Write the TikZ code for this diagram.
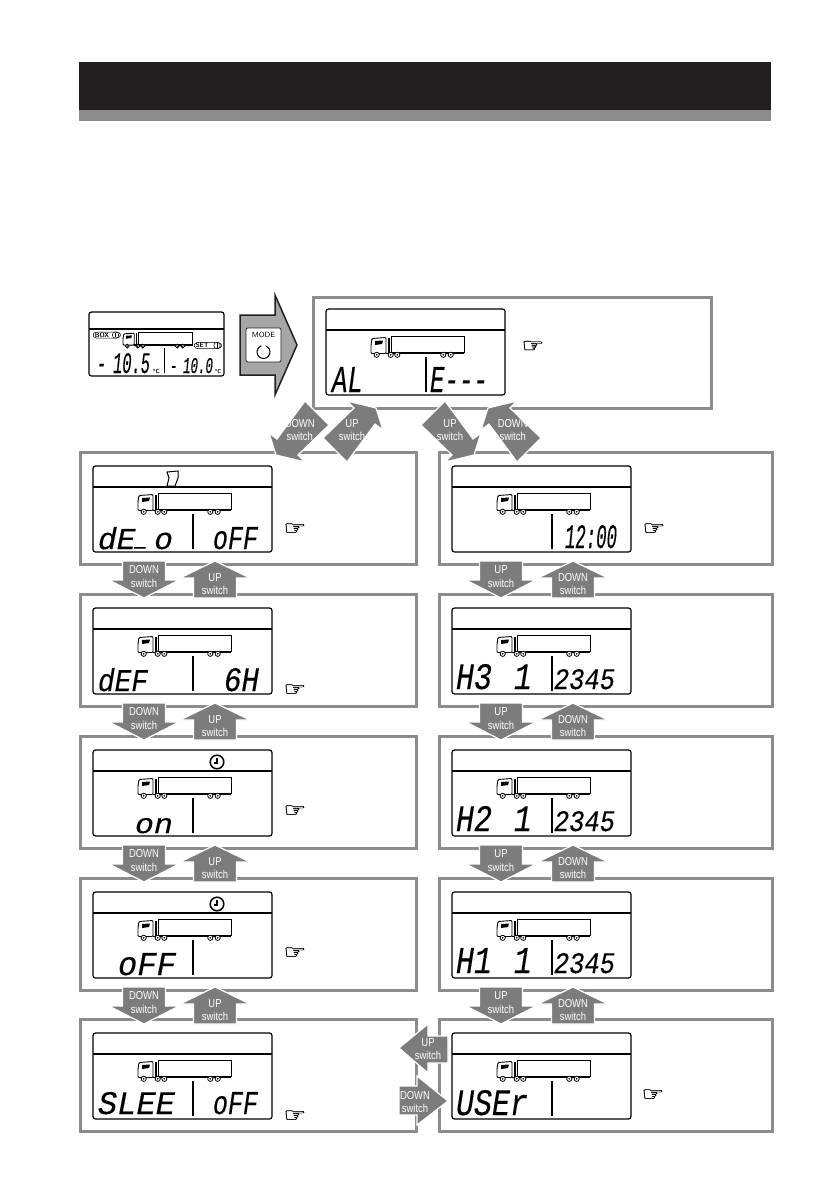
\documentclass[tikz,border=0pt]{standalone}
\usepackage{fontspec}
\usepackage{graphicx}

\newfontfamily\lcdfont[FakeBold=0.3]{Liberation Mono}
\newfontfamily\handfont[FakeBold=0.8]{DejaVu Sans}
\newfontfamily\switchfont[FakeStretch=0.82]{Liberation Sans}

\definecolor{barblack}{HTML}{231F20}
\definecolor{framegray}{HTML}{8C8C8C}
\definecolor{arrowgray}{HTML}{7C7C7C}
\definecolor{modegray}{HTML}{A6A6A6}

% name, x, y, width, height, text
\newcommand{\lcdtext}[6]{%
    \node[lcdglyph] (#1) at (#2,#3)
        {\resizebox{#4pt}{#5pt}{\lcdfont\itshape #6}};%
}

% name, x, y
\newcommand{\lcdpanel}[3]{%
    \node[lcdbox] (#1) at (#2,#3) {};
    \draw[lcdline] ([yshift=-21pt]#1.north west) -- ([yshift=-21pt]#1.north east);
    \draw[lcdline] ([shift={(100pt,-48pt)}]#1.north west) -- ([shift={(100pt,-83pt)}]#1.north west);
    \pic at ([shift={(45pt,-27pt)}]#1.north west) {truck};%
}

% name, x, y
\newcommand{\pointer}[3]{%
    \node[hand] (#1) at (#2,#3) {\resizebox{23pt}{11pt}{☞}};%
}

% name, x, y, label
\newcommand{\downswitch}[4]{%
    \pic at (#2,#3) {switchdown};
    \node[switchtext] (#1) at (#2,{#3+15.5}) {#4\\switch};%
}
\newcommand{\upswitch}[4]{%
    \pic at (#2,#3) {switchup};
    \node[switchtext] (#1) at (#2,{#3+23}) {#4\\switch};%
}

\begin{document}
\begin{tikzpicture}[
    x=1pt,
    y=-1pt,
    panelframe/.style={
        draw=framegray,
        line width=3pt,
        anchor=north west,
        inner sep=0pt,
        outer sep=0pt
    },
    lcdbox/.style={
        draw=black,
        line width=1.2pt,
        rounded corners=2.5pt,
        anchor=north west,
        minimum width=179pt,
        minimum height=86pt,
        inner sep=0pt,
        outer sep=0pt
    },
    lcdline/.style={
        draw=black,
        line width=1.2pt
    },
    lcdglyph/.style={
        anchor=base west,
        inner sep=0pt,
        outer sep=0pt
    },
    hand/.style={
        font=\handfont\fontsize{20}{20}\selectfont,
        inner sep=0pt
    },
    switchtext/.style={
        font=\switchfont\fontsize{11.5}{13.5}\selectfont,
        text=white,
        align=center,
        inner sep=0pt
    },
    switchbody/.style={
        fill=arrowgray,
        draw=white,
        line width=1.2pt
    },
    tag/.style={
        draw=black,
        line width=0.5pt,
        rounded corners=3pt,
        font=\sffamily\bfseries\fontsize{6.5}{7}\selectfont,
        text width=24pt,
        align=left,
        inner ysep=0.6pt,
        inner xsep=1.5pt,
        anchor=west
    },
    truck/.pic={
        \draw[line width=0.9pt, fill=white] (20,0) rectangle (93,16);
        \draw[line width=0.9pt, fill=white, rounded corners=1pt]
            (1,2.5) -- (15,1.5) -- (15,17.5) -- (0,17.5) -- (0,9) -- cycle;
        \fill (4,5) -- (12,4.5) -- (11,8) -- (4,9) -- cycle;
        \fill (17,1.5) rectangle (18.8,17);
        \draw[line width=1.4pt] (15,17.3) -- (93,17.3);
        \foreach \wheelX in {5.7,19.7,26.3,72.3,79.7} {
            \draw[line width=0.8pt, fill=white] (\wheelX,18.8) circle (2.6);
            \fill (\wheelX,18.8) circle (0.9);
        }
    },
    clock/.pic={
        \draw[line width=1.5pt] (0,0) circle (6.8);
        \draw[line width=1.3pt] (0,-4.5) -- (0,1) -- (-3.5,1);
    },
    gauge/.pic={
        \draw[line width=0.5pt] (0,0) circle (3.2);
        \draw[line width=0.9pt] (0,-2.2) -- (0,2.2);
    },
    switchdown/.pic={
        \draw[switchbody] (-21.5,0) -- (21.5,0) -- (21.5,19) -- (35,19)
            -- (0,37) -- (-35,19) -- (-21.5,19) -- cycle;
    },
    switchup/.pic={
        \draw[switchbody] (0,0) -- (35,17) -- (21.5,17) -- (21.5,37)
            -- (-21.5,37) -- (-21.5,17) -- (-35,17) -- cycle;
    },
    switchdiag/.pic={
        \draw[switchbody] (0,-30) -- (29,-23) -- (36,-1) -- (28,-7)
            -- (0,31) -- (-24,7) -- (7,-23) -- cycle;
    }
]

% Horizontal positions
\def\LeftX{93}
\def\RightX{452}

% ==================================================
% Title bar
% ==================================================

\useasboundingbox (0,0) rectangle (839,1191);

\fill[barblack] (79,62) rectangle (771,110);
\fill[framegray] (79,110) rectangle (771,121);

% ==================================================
% Frames
% ==================================================

\node[panelframe, minimum width=398pt, minimum height=111pt] (frameTop) at (313.5,297) {};

\node[panelframe, minimum width=336pt, minimum height=112pt] (frameLa) at (80.5,452) {};
\node[panelframe, minimum width=336pt, minimum height=112pt] (frameLb) at (80.5,594) {};
\node[panelframe, minimum width=336pt, minimum height=112pt] (frameLc) at (80.5,736) {};
\node[panelframe, minimum width=336pt, minimum height=112pt] (frameLd) at (80.5,878) {};
\node[panelframe, minimum width=336pt, minimum height=112pt] (frameLe) at (80.5,1019) {};

\node[panelframe, minimum width=333pt, minimum height=112pt] (frameRa) at (439,452) {};
\node[panelframe, minimum width=333pt, minimum height=112pt] (frameRb) at (439,594) {};
\node[panelframe, minimum width=333pt, minimum height=112pt] (frameRc) at (439,736) {};
\node[panelframe, minimum width=333pt, minimum height=112pt] (frameRd) at (439,878) {};
\node[panelframe, minimum width=333pt, minimum height=112pt] (frameRe) at (439,1019) {};

% ==================================================
% Small display and MODE arrow
% ==================================================

\node[lcdbox, minimum width=135pt, minimum height=64pt] (lcdStart) at (89,312) {};
\draw[lcdline] (lcdStart.west |- 0,329) -- (lcdStart.east |- 0,329);
\draw[lcdline, line width=0.9pt] (164,348) -- (164,373);
\pic[scale=0.75] at (123,332) {truck};

\node[tag] (tagBox) at (93,335) {BOX};
\pic at (115.5,335) {gauge};
\node[tag] (tagSet) at (194,345.5) {SET};
\pic at (217,345.5) {gauge};

\lcdtext{tempBox}{97}{373}{53}{20}{-\hspace{0.45em}10.5}
\lcdtext{tempSet}{170}{373}{43}{15}{-\hspace{0.45em}10.0}
\node[anchor=base west, inner sep=0pt, font=\sffamily\bfseries\fontsize{6}{6}\selectfont] (unitBox) at (153,373) {°C};
\node[anchor=base west, inner sep=0pt, font=\sffamily\bfseries\fontsize{5.5}{6}\selectfont] (unitSet) at (215,373) {°C};

\draw[fill=modegray, draw=barblack, line width=1.5pt]
    (240,315) -- (275,315) -- (275,295) -- (297,345) -- (275,395)
    -- (275,375) -- (240,375) -- cycle;
\node[draw=barblack, fill=white, line width=0.7pt, rounded corners=2pt,
    minimum width=35pt, minimum height=34pt, inner sep=0pt] (modeKey) at (263.5,345) {};
\node[font=\sffamily\fontsize{7.5}{8}\selectfont, inner sep=0pt] (modeText) at (263.5,335) {MODE};
\draw[line width=1pt] (263.5,352) ++(-70:6.5) arc (-70:250:6.5);

% ==================================================
% Top display
% ==================================================

\lcdpanel{lcdAlarm}{326}{309}
\lcdtext{textAL}{332}{392}{31}{25}{AL}
\lcdtext{textE}{430}{392}{58}{25}{E---}
\pointer{handTop}{533}{346.5}

% ==================================================
% Left column
% ==================================================

\lcdpanel{lcdLa}{\LeftX}{466}
\lcdtext{textDeo}{98}{549}{75}{22}{dE\makebox[0.6em][l]{\raisebox{0.12em}{\scalebox{0.6}[1]{\_}}}o}
\lcdtext{textDeoOff}{213}{549}{45}{22}{oFF}
\draw[line width=1pt] (167,472) -- (178,471) -- (178,478) -- (175,486) -- (167,486) -- (169,478) -- cycle;
\pointer{handLa}{295}{529}

\lcdpanel{lcdLb}{\LeftX}{608}
\lcdtext{textDef}{98}{691}{50}{23}{dEF}
\lcdtext{textDefTime}{224}{691}{35}{23}{6H}
\pointer{handLb}{295}{690}

\lcdpanel{lcdLc}{\LeftX}{750}
\lcdtext{textOn}{135}{833}{38}{15}{on}
\pic at (217,762) {clock};
\pointer{handLc}{295}{811}

\lcdpanel{lcdLd}{\LeftX}{892}
\lcdtext{textOff}{118}{975}{58}{22}{oFF}
\pic at (217,904) {clock};
\pointer{handLd}{295}{953}

\lcdpanel{lcdLe}{\LeftX}{1033}
\lcdtext{textSleep}{98}{1114}{77}{22}{SLEE}
\lcdtext{textSleepOff}{213}{1114}{45}{22}{oFF}
\pointer{handLe}{295}{1116}

% ==================================================
% Right column
% ==================================================

\lcdpanel{lcdRa}{\RightX}{466}
\lcdtext{textClock}{565}{548}{52}{23}{12:00}
\pointer{handRa}{654}{529}

\lcdpanel{lcdRb}{\RightX}{608}
\lcdtext{textHc}{456}{689}{76}{25}{H3\hspace{0.73em}1}
\lcdtext{numHc}{554}{689}{61}{20}{2345}

\lcdpanel{lcdRc}{\RightX}{750}
\lcdtext{textHb}{456}{831}{76}{25}{H2\hspace{0.73em}1}
\lcdtext{numHb}{554}{831}{61}{20}{2345}

\lcdpanel{lcdRd}{\RightX}{892}
\lcdtext{textHa}{456}{973}{76}{25}{H1\hspace{0.73em}1}
\lcdtext{numHa}{554}{973}{61}{20}{2345}

\lcdpanel{lcdRe}{\RightX}{1033}
\lcdtext{textUser}{456}{1115}{72}{25}{USEr}
\pointer{handRe}{653}{1095}

% ==================================================
% Diagonal switches
% ==================================================

\pic[xscale=-1, yscale=-1] at (305,432) {switchdiag};
\node[switchtext] (swDiagA) at (299.7,430) {DOWN\\switch};

\pic at (347,431) {switchdiag};
\node[switchtext] (swDiagB) at (352,430) {UP\\switch};

\pic[yscale=-1] at (445,432) {switchdiag};
\node[switchtext] (swDiagC) at (450,430) {UP\\switch};

\pic[xscale=-1] at (517,431) {switchdiag};
\node[switchtext] (swDiagD) at (512.7,430) {DOWN\\switch};

% ==================================================
% Vertical switches
% ==================================================

\downswitch{swLaD}{144}{561}{DOWN}
\upswitch{swLaU}{215}{561}{UP}
\downswitch{swLbD}{144}{703}{DOWN}
\upswitch{swLbU}{215}{703}{UP}
\downswitch{swLcD}{144}{845}{DOWN}
\upswitch{swLcU}{215}{845}{UP}
\downswitch{swLdD}{144}{987}{DOWN}
\upswitch{swLdU}{215}{987}{UP}

\downswitch{swRaD}{501}{561}{UP}
\upswitch{swRaU}{573}{561}{DOWN}
\downswitch{swRbD}{501}{703}{UP}
\upswitch{swRbU}{573}{703}{DOWN}
\downswitch{swRcD}{501}{845}{UP}
\upswitch{swRcU}{573}{845}{DOWN}
\downswitch{swRdD}{501}{987}{UP}
\upswitch{swRdU}{573}{987}{DOWN}

% ==================================================
% Horizontal switches
% ==================================================

\draw[switchbody] (399,1048) -- (428,1024) -- (428,1036) -- (448,1036)
    -- (448,1063) -- (428,1063) -- (428,1073) -- cycle;
\node[switchtext] (swUser) at (428,1049) {UP\\switch};

\draw[switchbody] (399,1086) -- (417,1086) -- (417,1076) -- (448,1101)
    -- (417,1125) -- (417,1115) -- (399,1115) -- cycle;
\node[switchtext] (swBack) at (415,1102) {DOWN\\switch};

\end{tikzpicture}
\end{document}
